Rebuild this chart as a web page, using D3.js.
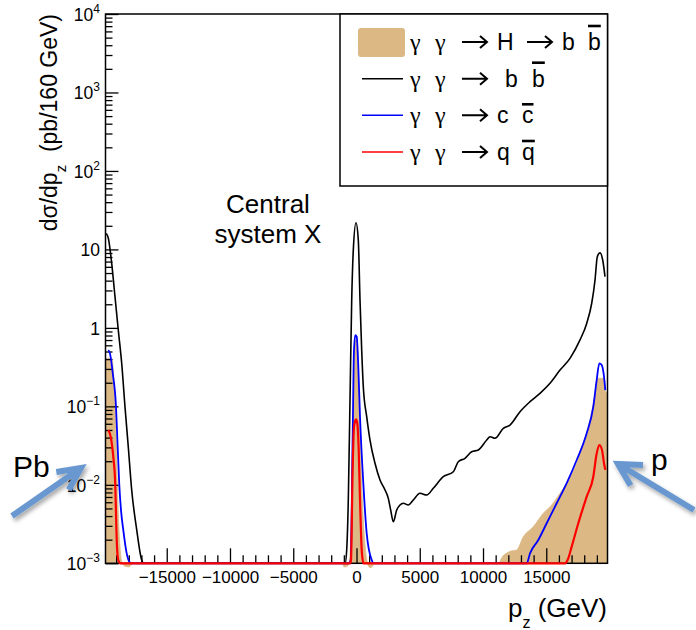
<!DOCTYPE html>
<html>
<head>
<meta charset="utf-8">
<script src="https://cdn.jsdelivr.net/npm/d3@7"></script>
<style>
  body { margin: 0; background: #fff; }
  svg { display: block; }
  text { font-family: "Liberation Sans", Arial, Helvetica, sans-serif; fill: #000; white-space: pre; }
</style>
</head>
<body>
<svg id="chart" width="696" height="630"></svg>
<script>
// Longitudinal momentum p_z (GeV) and dsigma/dp_z (pb per 160 GeV) for each process

// gamma gamma -> H -> b bbar (filled)
const hbbPz  = [-19840, -19351, -19225, -19090, -19011, -18908, -18797, -18695, -18560, -18299, -17983, -17667,
                -1100, -988, -775, -593, -458, -356, -253, -174, -79, 40, 158, 277, 395, 538, 711, 870, 1067, 1265, 1383,
                11185, 11580, 11873, 12213, 12663, 13185, 13975, 14766, 15429, 16086, 16615, 17406, 17927, 18457,
                18853, 19034, 19248, 19564, 19643, 19840];
const hbbVal = [0.409, 0.409, 0.29, 0.109, 0.041, 0.0105, 0.00324, 0.00164, 0.00105, 0.00092, 0.0009, 0.001,
                0.001, 0.0009, 0.00091, 0.001, 0.00198, 0.0154, 0.12, 0.39, 0.70, 0.70, 0.25, 0.05, 0.0117, 0.00356, 0.00148, 0.001, 0.00088, 0.00092, 0.001,
                0.001, 0.00124, 0.00135, 0.00143, 0.00148, 0.00218, 0.00293, 0.00434, 0.00553, 0.0078, 0.0105, 0.0188, 0.0338, 0.067,
                0.1465, 0.228, 0.228, 0.228, 0.161, 0.1465];

// gamma gamma -> b bbar
const bbPz  = [-19780, -19620, -19350, -19090, -18830, -18560, -18300, -18040, -17770, -17370, -16980, -16800,
               -900, -775, -648, -514, -379, -253, -40, 142, 277, 411, 538, 806, 1067, 1462, 1858, 2253, 2514, 2703, 2909,
               3178, 3438, 3699, 4095, 4490, 5019, 5549, 6071, 6861, 7652, 8047, 8576, 9106, 9628, 10292, 10553, 10948,
               11604, 12134, 12924, 13715, 14505, 15295, 16086, 16876, 17667, 18196, 18592, 18853, 19034, 19248, 19461, 19643];
const bbVal = [16.0, 14.0, 6.65, 2.5, 0.94, 0.354, 0.099, 0.0306, 0.0086, 0.00265, 0.0011, 0.001,
               0.001, 0.00148, 0.0064, 0.12, 2.27, 9.8, 21.9, 13.2, 2.27, 0.52, 0.178, 0.0738, 0.0372, 0.0188, 0.01154, 0.0086, 0.00673, 0.00477, 0.00339,
               0.00477, 0.00553, 0.00582, 0.00553, 0.0064, 0.0078, 0.00742, 0.00904, 0.0127, 0.0147, 0.0197, 0.0218, 0.0264, 0.0278, 0.0372, 0.041, 0.0392,
               0.0525, 0.0578, 0.0855, 0.1146, 0.1465, 0.197, 0.29, 0.409, 0.702, 1.14, 2.06, 4.07, 8.07, 9.08, 7.33, 4.49];

// gamma gamma -> c cbar
const ccPz  = [-19620, -19485, -19248, -19011, -18932, -18750, -18615, -18433, -18165, -17960, -17800,
               -600, -458, -300, -198, -95, 16, 142, 277, 538, 806, 1201, 1350,
               13454, 13715, 14370, 15034, 15825, 16615, 17406, 18196, 18718, 18987, 19192, 19382, 19564, 19667];
const ccVal = [0.52, 0.47, 0.25, 0.099, 0.05, 0.00995, 0.00477, 0.00265, 0.00134, 0.00105, 0.001,
               0.001, 0.0011, 0.0454, 0.52, 0.81, 0.773, 0.32, 0.0738, 0.0105, 0.00241, 0.0011, 0.001,
               0.001, 0.00134, 0.00198, 0.00324, 0.00582, 0.0105, 0.0207, 0.0454, 0.099, 0.217, 0.354, 0.336, 0.239, 0.161];

// gamma gamma -> q qbar
const qqPz  = [-19620, -19430, -19225, -19067, -19011, -18932, -18829, -18650,
               -500, -435, -300, -198, -40, 63, 174, 277, 411, 490, 560,
               16481, 16742, 17010, 17532, 18196, 18718, 18987, 19192, 19406, 19564, 19667];
const qqVal = [0.05, 0.041, 0.0228, 0.00995, 0.00438, 0.00163, 0.0011, 0.001,
               0.001, 0.0011, 0.017, 0.055, 0.0684, 0.0608, 0.0278, 0.0064, 0.00148, 0.0011, 0.001,
               0.001, 0.00116, 0.00163, 0.00324, 0.00706, 0.0127, 0.0252, 0.0322, 0.0278, 0.0188, 0.0155];

// Axis ticks
const xMajorTicks = [-15000, -10000, -5000, 0, 5000, 10000, 15000];
const xMinorTicks = d3.range(-19000, 19001, 1000).filter(v => v % 5000 !== 0);
const yDecades = [-3, -2, -1, 0, 1, 2, 3, 4];

// Legend entries: glyph sequence ("→" is drawn as a stroked arrow), index of the barred antiquark
const legendParts  = [["γ", "γ", "→", "H", "→", "b", "b"],
                      ["γ", "γ", "→", "b", "b"],
                      ["γ", "γ", "→", "c", "c"],
                      ["γ", "γ", "→", "q", "q"]];
const legendBarred = [6, 4, 4, 4];

// ---------------------------------------------------------------------------
const svg = d3.select("#chart");
const FLOOR = 1e-3;
const X0 = 105.5, X1 = 607.5, Y0 = 563.3, Y1 = 14;

const x = d3.scaleLinear().domain([-19840, 19840]).range([X0, X1]);
const y = d3.scaleLog().domain([FLOOR, 1e4]).range([Y0, Y1]);

const TAN = "#dcb984";

// filled H -> b bbar distribution
svg.append("path")
  .datum(d3.zip(hbbPz, hbbVal))
  .attr("fill", TAN)
  .attr("stroke", TAN)
  .attr("stroke-width", 0.8)
  .attr("d", d3.area()
    .x(d => x(d[0]))
    .y0(y(FLOOR))
    .y1(d => y(d[1]))
    .curve(d3.curveMonotoneX));

// frame
svg.append("rect")
  .attr("x", X0).attr("y", Y1)
  .attr("width", X1 - X0).attr("height", Y0 - Y1)
  .attr("fill", "none").attr("stroke", "#000").attr("stroke-width", 1.5);

// x axis: minor and major ticks pointing inward
const gxMinor = svg.append("g").attr("transform", `translate(0,${Y0})`)
  .call(d3.axisBottom(x).tickValues(xMinorTicks).tickSizeInner(-8).tickSizeOuter(0).tickFormat(""));
gxMinor.select(".domain").remove();
const gxMajor = svg.append("g").attr("transform", `translate(0,${Y0})`)
  .call(d3.axisBottom(x).tickValues(xMajorTicks).tickSizeInner(-15).tickSizeOuter(0)
    .tickPadding(8).tickFormat(d3.format("d")));
gxMajor.select(".domain").remove();
gxMajor.attr("font-family", null).attr("font-size", 17);

// y axis: log ticks
const yMinorTicks = [];
for (let e = -3; e < 4; e++) for (let k = 2; k <= 9; k++) yMinorTicks.push(k * Math.pow(10, e));
const gyMinor = svg.append("g").attr("transform", `translate(${X0},0)`)
  .call(d3.axisLeft(y).tickValues(yMinorTicks).tickSizeInner(-7).tickSizeOuter(0).tickFormat(""));
gyMinor.select(".domain").remove();
const gyMajor = svg.append("g").attr("transform", `translate(${X0},0)`)
  .call(d3.axisLeft(y).tickValues(yDecades.map(e => Math.pow(10, e))).tickSizeInner(-13).tickSizeOuter(0).tickFormat(""));
gyMajor.select(".domain").remove();
svg.selectAll(".tick line").attr("stroke-width", 1.3);

// y tick labels with exponents
const yLab = svg.append("g").attr("font-size", 17.5).attr("text-anchor", "end");
yDecades.forEach(e => {
  const t = yLab.append("text").attr("x", 100).attr("y", y(Math.pow(10, e)) + 7);
  if (e === 0) t.text("1");
  else if (e === 1) t.text("10");
  else {
    t.append("tspan").text("10");
    t.append("tspan").attr("dy", -8).attr("font-size", 12).text(e < 0 ? "−" + (-e) : String(e));
  }
});

// curves, clamped at the lower edge of the frame
const line = d3.line()
  .x(d => x(d[0]))
  .y(d => y(Math.max(d[1], FLOOR)))
  .curve(d3.curveMonotoneX);

[[bbPz, bbVal, "#000", 1.6], [ccPz, ccVal, "#0000ff", 1.8], [qqPz, qqVal, "#ff0000", 2.2]]
  .forEach(([pz, val, col, w]) => {
    svg.append("path")
      .datum(d3.zip(pz, val))
      .attr("fill", "none")
      .attr("stroke", col)
      .attr("stroke-width", w)
      .attr("stroke-linejoin", "round")
      .attr("d", line);
  });

// axis titles
const yt = svg.append("text")
  .attr("transform", "translate(57,14) rotate(-90)")
  .attr("text-anchor", "end")
  .attr("font-size", 23);
yt.append("tspan").text("dσ/dp");
yt.append("tspan").attr("dy", 9).attr("font-size", 15).text("z");
yt.append("tspan").attr("dy", -9).text("  (pb/160 GeV)");

const xt = svg.append("text")
  .attr("x", 607).attr("y", 617)
  .attr("text-anchor", "end")
  .attr("font-size", 26);
xt.append("tspan").text("p");
xt.append("tspan").attr("dy", 11).attr("font-size", 16).text("z");
xt.append("tspan").attr("dy", -11).text(" (GeV)");

// legend
const LX = 340, LW = X1 - LX;
svg.append("rect")
  .attr("x", LX).attr("y", Y1).attr("width", LW).attr("height", 172)
  .attr("fill", "#fff").attr("stroke", "#000").attr("stroke-width", 1.5);

const legendBase = [50, 86.7, 123.3, 160];
const legendOffsets = [[0, 25, 52, 87, 117, 152, 178], [0, 25, 52, 95, 122], [0, 25, 52, 87, 112], [0, 25, 52, 87, 112]];
const legendColors = [TAN, "#000", "#0000ff", "#ff0000"];
const TX = 410;

legendParts.forEach((parts, i) => {
  const base = legendBase[i];
  if (i === 0) {
    svg.append("rect").attr("x", 358).attr("y", base - 22).attr("width", 47).attr("height", 29)
      .attr("rx", 3).attr("fill", TAN);
  } else {
    svg.append("line").attr("x1", 362).attr("x2", 403).attr("y1", base - 8).attr("y2", base - 8)
      .attr("stroke", legendColors[i]).attr("stroke-width", 1.6);
  }
  parts.forEach((p, j) => {
    const px = TX + legendOffsets[i][j];
    if (p === "→") {
      const cy = base - 8;
      svg.append("path")
        .attr("d", `M${px},${cy}H${px + 25}M${px + 18},${cy - 6}L${px + 25},${cy}L${px + 18},${cy + 6}`)
        .attr("fill", "none").attr("stroke", "#000").attr("stroke-width", 2);
      return;
    }
    const t = svg.append("text")
      .attr("x", px).attr("y", base)
      .attr("font-size", 23)
      .text(p);
    if (p === "γ") t.style("font-family", "'Liberation Serif', 'DejaVu Serif', serif").attr("font-size", 24);
    if (j === legendBarred[i]) {
      const w = t.node().getComputedTextLength();
      const lift = p === "b" ? 24 : 19;
      svg.append("line")
        .attr("x1", px).attr("x2", px + w)
        .attr("y1", base - lift).attr("y2", base - lift)
        .attr("stroke", "#000").attr("stroke-width", 2.6);
    }
  });
});

// annotations
svg.append("text").attr("x", 268).attr("y", 213).attr("text-anchor", "middle").attr("font-size", 26).text("Central");
svg.append("text").attr("x", 268).attr("y", 243).attr("text-anchor", "middle").attr("font-size", 26).text("system X");
svg.append("text").attr("x", 13).attr("y", 477).attr("font-size", 30).text("Pb");
svg.append("text").attr("x", 651).attr("y", 470).attr("font-size", 30).text("p");

// beam arrows with a soft shadow
const defs = svg.append("defs");
const f = defs.append("filter").attr("id", "shadow").attr("x", "-30%").attr("y", "-30%").attr("width", "160%").attr("height", "160%");
f.append("feDropShadow").attr("dx", 2).attr("dy", 3).attr("stdDeviation", 2)
  .attr("flood-color", "#000").attr("flood-opacity", 0.35);

function beamArrow(tail, tip, len, spread) {
  const ang = Math.atan2(tail[1] - tip[1], tail[0] - tip[0]);
  const b1 = [tip[0] + len * Math.cos(ang + spread), tip[1] + len * Math.sin(ang + spread)];
  const b2 = [tip[0] + len * Math.cos(ang - spread), tip[1] + len * Math.sin(ang - spread)];
  const p = d3.path();
  p.moveTo(tail[0], tail[1]); p.lineTo(tip[0], tip[1]);
  p.moveTo(b1[0], b1[1]); p.lineTo(tip[0], tip[1]); p.lineTo(b2[0], b2[1]);
  svg.append("path").attr("d", p.toString())
    .attr("fill", "none").attr("stroke", "#6898cf").attr("stroke-width", 6)
    .attr("stroke-linejoin", "miter").attr("filter", "url(#shadow)");
}
beamArrow([12, 516], [81, 468], 25, 0.45);
beamArrow([694, 510], [618, 464], 25, 0.5);
</script>
</body>
</html>
